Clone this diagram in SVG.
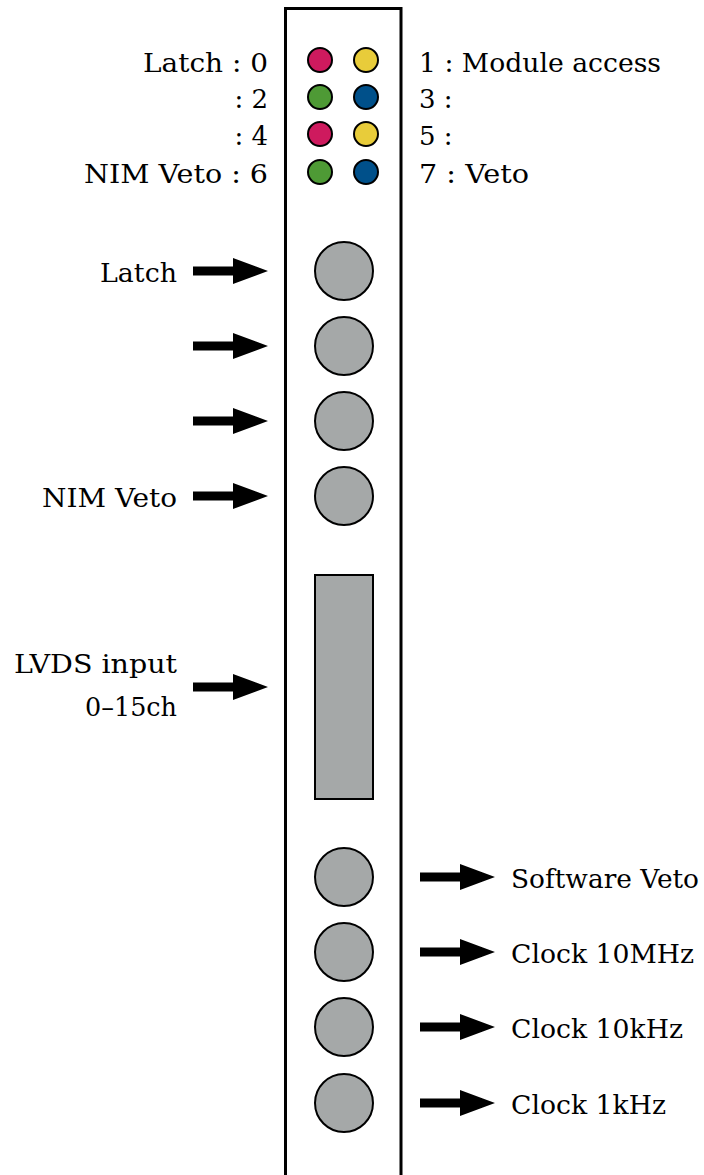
<svg xmlns="http://www.w3.org/2000/svg" width="704" height="1175" viewBox="0 0 704 1175">
  <style>
    .lbl { font-family: "DejaVu Serif", "Liberation Serif", serif; font-size: 26px; fill: #000; }
    .end { text-anchor: end; }
    .panel { fill: #fff; stroke: #000; stroke-width: 3; }
    .led { stroke: #000; stroke-width: 2; }
    .red { fill: #CE1A5E; }
    .yel { fill: #E8CC3A; }
    .grn { fill: #4E9A35; }
    .blu { fill: #00508A; }
    .conn { fill: #A5A8A8; stroke: #000; stroke-width: 2; }
    .arrow { fill: #000; }
  </style>
  <defs>
    <!-- thick block arrow pointing right, tip at origin -->
    <path id="arr" d="M-75,-4.5 H-35 V-13 L0,0 L-35,13 V4.5 H-75 Z"/>
  </defs>

  <rect width="704" height="1175" fill="#fff"/>

  <!-- module front panel -->
  <g id="panel">
    <path class="panel" d="M285.5,1180 V8.5 H401 V1180"/>
  </g>

  <!-- status LEDs -->
  <g id="leds">
    <circle class="led red" cx="320" cy="60" r="12"/>
    <circle class="led yel" cx="366" cy="60" r="12"/>
    <circle class="led grn" cx="320" cy="97" r="12"/>
    <circle class="led blu" cx="366" cy="97" r="12"/>
    <circle class="led red" cx="320" cy="134" r="12"/>
    <circle class="led yel" cx="366" cy="134" r="12"/>
    <circle class="led grn" cx="320" cy="172" r="12"/>
    <circle class="led blu" cx="366" cy="172" r="12"/>
  </g>

  <g id="led-labels">
    <text class="lbl end" x="268" y="72" textLength="125" lengthAdjust="spacingAndGlyphs">Latch : 0</text>
    <text class="lbl end" x="268" y="108">: 2</text>
    <text class="lbl end" x="268" y="145">: 4</text>
    <text class="lbl end" x="268" y="183" textLength="184" lengthAdjust="spacingAndGlyphs">NIM Veto : 6</text>
    <text class="lbl" x="419" y="72" textLength="242" lengthAdjust="spacingAndGlyphs">1 : Module access</text>
    <text class="lbl" x="419" y="108">3 :</text>
    <text class="lbl" x="419" y="145">5 :</text>
    <text class="lbl" x="419" y="183" textLength="110" lengthAdjust="spacingAndGlyphs">7 : Veto</text>
  </g>

  <!-- NIM inputs -->
  <g id="in-latch">
    <circle class="conn" cx="344" cy="271" r="29"/>
    <text class="lbl end" x="177" y="282" textLength="77" lengthAdjust="spacingAndGlyphs">Latch</text>
  </g>
  <g id="in-2">
    <circle class="conn" cx="344" cy="346" r="29"/>
  </g>
  <g id="in-3">
    <circle class="conn" cx="344" cy="421" r="29"/>
  </g>
  <g id="in-nimveto">
    <circle class="conn" cx="344" cy="496" r="29"/>
    <text class="lbl end" x="177" y="507" textLength="135" lengthAdjust="spacingAndGlyphs">NIM Veto</text>
  </g>

  <!-- LVDS connector -->
  <g id="in-lvds">
    <rect class="conn" x="315" y="575" width="58" height="224"/>
    <text class="lbl end" x="177" y="673" textLength="163" lengthAdjust="spacingAndGlyphs">LVDS input</text>
    <text class="lbl end" x="177" y="716" textLength="92" lengthAdjust="spacingAndGlyphs">0–15ch</text>
  </g>

  <!-- outputs -->
  <g id="out-swveto">
    <circle class="conn" cx="344" cy="877" r="29"/>
    <text class="lbl" x="511" y="888" textLength="188" lengthAdjust="spacingAndGlyphs">Software Veto</text>
  </g>
  <g id="out-10mhz">
    <circle class="conn" cx="344" cy="952" r="29"/>
    <text class="lbl" x="511" y="963" textLength="183" lengthAdjust="spacingAndGlyphs">Clock 10MHz</text>
  </g>
  <g id="out-10khz">
    <circle class="conn" cx="344" cy="1027" r="29"/>
    <text class="lbl" x="511" y="1038" textLength="172" lengthAdjust="spacingAndGlyphs">Clock 10kHz</text>
  </g>
  <g id="out-1khz">
    <circle class="conn" cx="344" cy="1103" r="29"/>
    <text class="lbl" x="511" y="1114" textLength="155" lengthAdjust="spacingAndGlyphs">Clock 1kHz</text>
  </g>

  <!-- signal arrows -->
  <g id="connectors" class="arrow">
    <use href="#arr" x="268" y="271"/>
    <use href="#arr" x="268" y="346"/>
    <use href="#arr" x="268" y="421"/>
    <use href="#arr" x="268" y="496"/>
    <use href="#arr" x="268" y="687"/>
    <use href="#arr" x="495" y="877"/>
    <use href="#arr" x="495" y="952"/>
    <use href="#arr" x="495" y="1027"/>
    <use href="#arr" x="495" y="1103"/>
  </g>
</svg>
